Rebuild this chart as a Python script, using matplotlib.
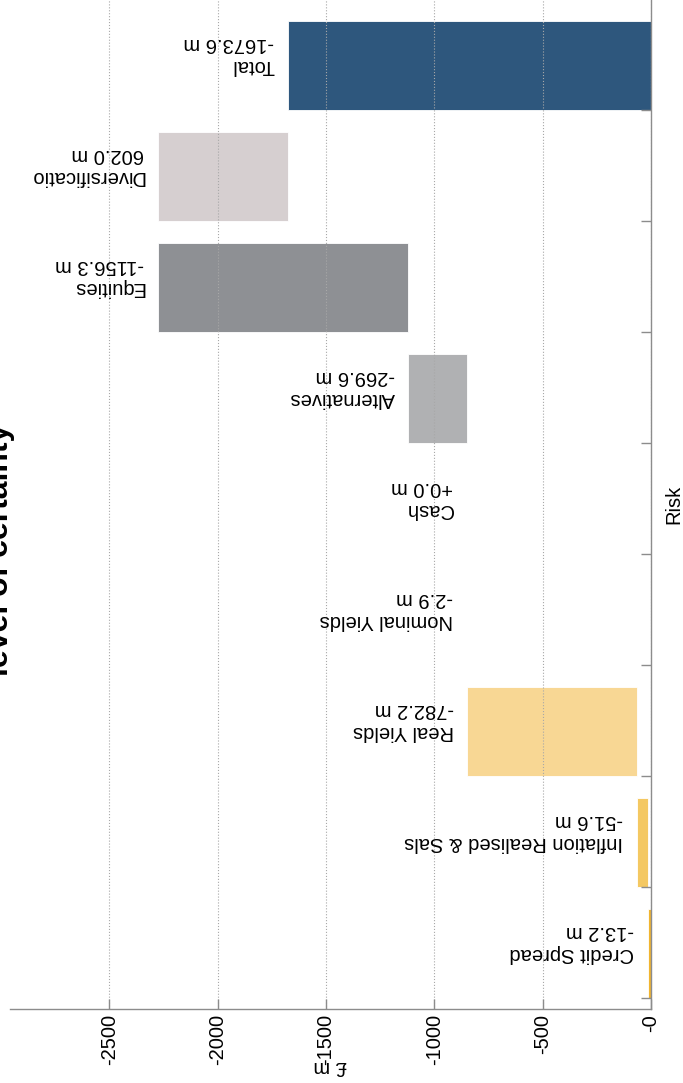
import matplotlib
matplotlib.use("Agg")
import matplotlib.pyplot as plt
import numpy as np

plt.rcParams['font.family'] = ['Liberation Sans', 'DejaVu Sans']
plt.rcParams['axes.unicode_minus'] = False

# --- data (£ m) ---
categories = ["Credit Spread", "Inflation Realised & Sals", "Real Yields", "Nominal Yields",
              "Cash", "Alternatives", "Equities", "Diversificatio", "Total"]
changes = [-13.2, -51.6, -782.2, -2.9, 0.0, -269.6, -1156.3, 602.0, -1673.6]
value_text = ["-13.2 m", "-51.6 m", "-782.2 m", "-2.9 m", "+0.0 m",
              "-269.6 m", "-1156.3 m", "602.0 m", "-1673.6 m"]
colors = ["#f1b52f", "#f4c862", "#f8d794", "#f9e6c4", "#f9e6c4",
          "#b0b1b3", "#8e9094", "#d6cfd0", "#2e577d"]
tick_values = [-2500, -2000, -1500, -1000, -500, 0]
tick_labels = ["-2500", "-2000", "-1500", "-1000", "-500", "-0"]

# waterfall starts: running total, last bar starts at zero
starts = np.concatenate([[0.0], np.cumsum(changes[:-2])])
starts = np.append(starts, 0.0)
pos = np.arange(len(categories))

fig = plt.figure(figsize=(6.83, 10.83), dpi=100)
ax = fig.add_axes([10 / 683, 74 / 1083, 641 / 683, 1009 / 1083])

ax.barh(pos, changes, left=starts, height=0.8, align='edge',
        color=colors, edgecolor='white', linewidth=0.6, zorder=1)

for i in range(len(categories)):
    anchor = min(starts[i], starts[i] + changes[i])
    ax.annotate(f"{categories[i]}\n{value_text[i]}", xy=(anchor, i + 0.5),
                xytext=(-10, 0), textcoords='offset points', rotation=180,
                ha='right', va='center', multialignment='left', fontsize=14.5)

ax.set_xlim(-2958, 0)
ax.set_ylim(-0.1, 8.99)

ax.set_xticks(tick_values)
ax.set_xticklabels(tick_labels, rotation=90, fontsize=14.5)
ax.yaxis.tick_right()
ax.set_yticks(pos)
ax.set_yticklabels([])
ax.tick_params(axis='both', direction='in', length=7, color='#8c8c8c', width=1)

ax.set_axisbelow(False)
ax.grid(axis='x', linestyle=':', color='#a8a8a8', linewidth=0.8)

for side in ['top', 'left']:
    ax.spines[side].set_visible(False)
for side in ['bottom', 'right']:
    ax.spines[side].set_color('#8c8c8c')
    ax.spines[side].set_linewidth(1)

ax.set_xlabel("£ m", rotation=180, fontsize=14.5, ha='center', va='center',
              rotation_mode='default')
ax.xaxis.set_label_coords(0.5, -0.0565)

ax.yaxis.set_label_position('right')
ax.set_ylabel("Risk", rotation=90, fontsize=14.5)
ax.yaxis.label.set_rotation_mode('default')
ax.yaxis.label.set_horizontalalignment('center')
ax.yaxis.label.set_verticalalignment('center')
ax.yaxis.set_label_coords(1.036, 0.5)

fig.text(15 / 683, 1 - 550 / 1083, "level of certainty", rotation=90,
         ha='right', va='center', fontsize=23, fontweight='bold')

fig.savefig("out.png", dpi=100)
